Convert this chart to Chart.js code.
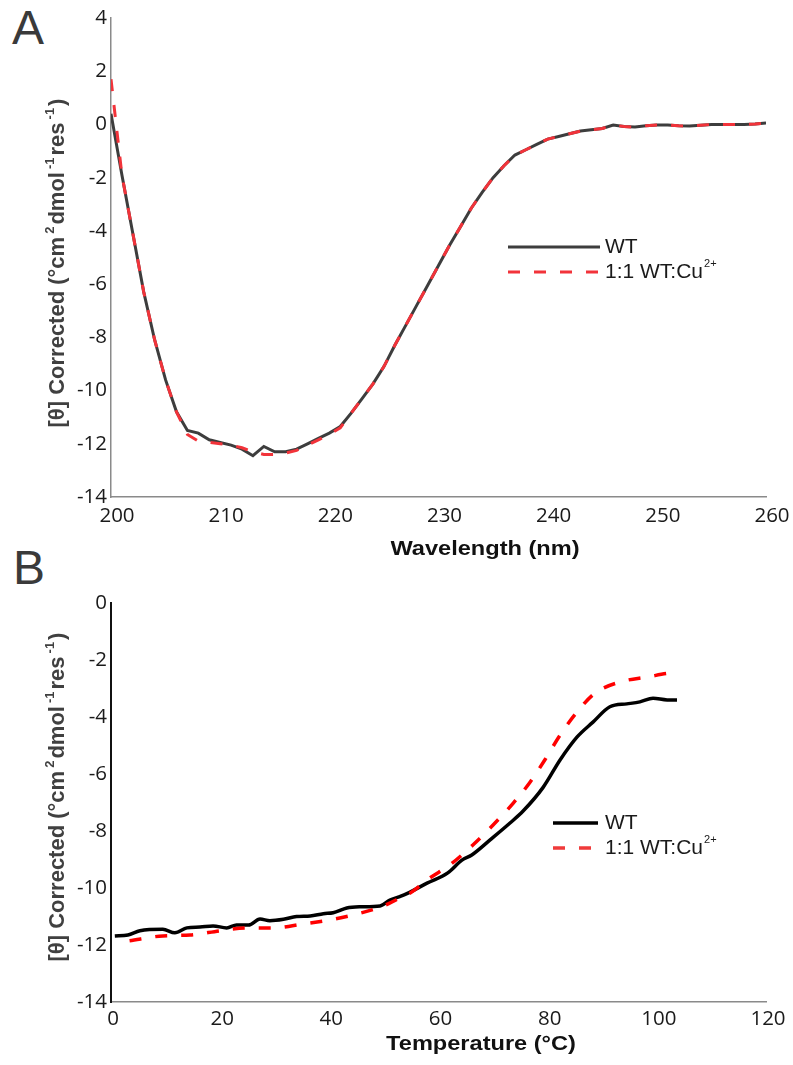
<!DOCTYPE html>
<html>
<head>
<meta charset="utf-8">
<script src="https://cdn.jsdelivr.net/npm/chart.js@4.4.1/dist/chart.umd.min.js"></script>
<style>
  body { margin: 0; background: #fff; }
  #page { position: relative; width: 793px; height: 1065px; overflow: hidden; background: #fff; }
  canvas { position: absolute; left: 0; }
  .letter { position: absolute; font: 48px "Liberation Sans", Arial, sans-serif; color: #3a3a3a; line-height: 48px; }
  .ytitle { position: absolute; white-space: nowrap; font: bold 22px "Liberation Sans", Arial, sans-serif; color: #404040;
            transform: translate(-50%, -50%) rotate(-90deg); }
  .ytitle sup { font-size: 13px; vertical-align: 10px; line-height: 0; margin: 0 2px 0 3px; }
  .xtitle { position: absolute; white-space: nowrap; font: bold 20.5px "Liberation Sans", Arial, sans-serif; color: #111;
            transform: translate(-50%, -50%) scaleX(1.15); }
</style>
</head>
<body>
<div id="page">
  <div class="letter" style="left:12px; top:4px;">A</div>
  <div class="letter" style="left:13px; top:544px;">B</div>
  <canvas id="chartA" width="793" height="565" style="top:0"></canvas>
  <canvas id="chartB" width="793" height="505" style="top:560px"></canvas>
  <div class="ytitle" style="left:57px; top:263px;">[θ] Corrected (°cm<sup>2</sup>dmol<sup>-1</sup>res<sup>-1</sup>)</div>
  <div class="ytitle" style="left:57px; top:797px;">[θ] Corrected (°cm<sup>2</sup>dmol<sup>-1</sup>res<sup>-1</sup>)</div>
  <div class="xtitle" style="left:485px; top:548px;">Wavelength (nm)</div>
  <div class="xtitle" style="left:481px; top:1043px;">Temperature (°C)</div>
</div>
<script>
// Panel A: far-UV CD spectrum
const wavelength = [200, 201, 202, 203, 204, 205, 206, 207, 208, 209,
  210, 211, 212, 213, 214, 215, 216, 217, 218, 219,
  220, 221, 222, 223, 224, 225, 226, 227, 228, 229,
  230, 231, 232, 233, 234, 235, 236, 237, 238, 239,
  240, 241, 242, 243, 244, 245, 246, 247, 248, 249,
  250, 251, 252, 253, 254, 255, 256, 257, 258, 259, 260];
const wtSpectrum = [0.4, -1.9, -4.1, -6.3, -8.1, -9.6, -10.8, -11.5, -11.6, -11.85,
  -11.95, -12.05, -12.2, -12.45, -12.1, -12.3, -12.3, -12.2, -12.0, -11.8,
  -11.6, -11.35, -10.85, -10.3, -9.75, -9.1, -8.3, -7.55, -6.8, -6.05,
  -5.3, -4.55, -3.85, -3.15, -2.55, -2.0, -1.55, -1.15, -0.95, -0.75,
  -0.55, -0.45, -0.35, -0.25, -0.2, -0.15, -0.02, -0.08, -0.1, -0.05,
  -0.02, -0.02, -0.05, -0.06, -0.03, 0.0, 0.0, 0.0, 0.0, 0.02, 0.05];
const cuSpectrum = [1.7, -1.9, -4.1, -6.3, -8.1, -9.6, -10.8, -11.65, -11.9, -11.95,
  -12.0, -12.05, -12.15, -12.3, -12.4, -12.4, -12.35, -12.25, -12.05, -11.85,
  -11.65, -11.4, -10.85, -10.3, -9.75, -9.1, -8.3, -7.55, -6.8, -6.05,
  -5.3, -4.55, -3.85, -3.15, -2.55, -2.0, -1.55, -1.15, -0.95, -0.75,
  -0.55, -0.45, -0.35, -0.25, -0.2, -0.15, -0.02, -0.08, -0.1, -0.05,
  -0.02, -0.02, -0.05, -0.06, -0.03, 0.0, 0.0, 0.0, 0.0, 0.02, 0.05];

// Panel B: thermal melt
const wtTemp = [0.7, 3.1, 5.3, 9.5, 11.7, 13.9, 16.3, 18.7, 21.2, 23, 25.2, 27.3, 29.1, 31.6,
  34, 36.5, 38.9, 40.7, 43.2, 45.6, 49.3, 51.1, 52.9, 54.2, 57.9, 61.7, 64.3, 66.1, 69.4,
  73.1, 75.5, 79.2, 82.3, 85.4, 88.3, 91.4, 94.5, 96.9, 99.3, 101.9, 103.7];
const wtMelt = [-11.68, -11.65, -11.5, -11.45, -11.57, -11.4, -11.37, -11.33, -11.4, -11.3, -11.3, -11.09, -11.15, -11.1,
  -11.0, -10.98, -10.9, -10.87, -10.7, -10.66, -10.63, -10.42, -10.3, -10.2, -9.83, -9.47, -9.02, -8.84, -8.32,
  -7.72, -7.3, -6.46, -5.5, -4.7, -4.18, -3.64, -3.54, -3.47, -3.34, -3.4, -3.4];
const cuTemp = [3.4, 9.5, 14.5, 20, 24.9, 29.7, 35.2, 40.1, 44.3, 49.9, 52.4, 54.8, 58.4, 62.1,
  66.3, 70, 73.7, 76.8, 79.5, 82.3, 85.4, 88.7, 93.3, 98.2, 103, 104];
const cuMelt = [-11.85, -11.68, -11.65, -11.5, -11.4, -11.4, -11.26, -11.12, -10.95, -10.63, -10.4, -10.18, -9.65, -9.19,
  -8.49, -7.79, -7.02, -6.28, -5.5, -4.63, -3.82, -3.16, -2.77, -2.6, -2.46, -2.49];

const seriesLabels = ['WT', '1:1 WT:Cu'];
const cuSup = '2+';

const toPoints = (xs, ys) => xs.map((x, i) => ({ x: x, y: ys[i] }));

// draws the legend inside the plot at fixed spots
const inlineLegend = {
  id: 'inlineLegend',
  afterDatasetsDraw(chart, args, opts) {
    const ctx = chart.ctx;
    chart.data.datasets.forEach((ds, i) => {
      const y = opts.rows[i];
      ctx.save();
      ctx.strokeStyle = ds.legendColor || ds.borderColor;
      ctx.lineWidth = ds.borderWidth;
      ctx.setLineDash(ds.borderDash || []);
      ctx.beginPath();
      ctx.moveTo(opts.x0, y);
      ctx.lineTo(opts.x1, y);
      ctx.stroke();
      ctx.fillStyle = '#1a1a1a';
      ctx.font = '21px "Liberation Sans", Arial, sans-serif';
      ctx.textBaseline = 'middle';
      ctx.fillText(ds.label, opts.textX, y);
      if (ds.sup) {
        const w = ctx.measureText(ds.label).width;
        ctx.font = '11px "Liberation Sans", Arial, sans-serif';
        ctx.fillText(ds.sup, opts.textX + w + 1, y - 8);
      }
      ctx.restore();
    });
  }
};

function makeOptions(cfg) {
  return {
    responsive: false,
    animation: false,
    devicePixelRatio: 1,
    layout: { padding: { top: cfg.padTop, right: 27, left: 0, bottom: 0 } },
    plugins: {
      legend: { display: false },
      tooltip: { enabled: false },
      inlineLegend: cfg.legend
    },
    elements: { point: { radius: 0 } },
    scales: {
      x: {
        type: 'linear', min: cfg.xMin, max: cfg.xMax,
        grid: { display: false, drawTicks: false },
        border: { display: true, color: '#8a8a8a', width: 1.5 },
        ticks: { stepSize: cfg.xStep, padding: cfg.xPad, labelOffset: cfg.xOffset, color: '#1a1a1a',
                 font: { family: '"Open Sans", sans-serif', size: 20.5 } },
        afterFit: s => { s.height = cfg.xHeight; }
      },
      y: {
        min: cfg.yMin, max: cfg.yMax,
        grid: { display: false, drawTicks: false },
        border: { display: true, color: cfg.yAxisColor, width: cfg.yAxisWidth },
        ticks: { stepSize: 2, padding: 4, color: '#1a1a1a',
                 font: { family: '"Open Sans", sans-serif', size: 20.5 } },
        afterFit: s => { s.width = 111; }
      }
    }
  };
}

new Chart(document.getElementById('chartA'), {
  type: 'line',
  data: {
    datasets: [
      { label: seriesLabels[0], data: toPoints(wavelength, wtSpectrum), borderColor: '#3d3d3d',
        borderWidth: 3, tension: 0, order: 2 },
      { label: seriesLabels[1], sup: cuSup, data: toPoints(wavelength, cuSpectrum), borderColor: '#f2333a',
        borderWidth: 3, borderDash: [12, 14], tension: 0, order: 1 }
    ]
  },
  options: makeOptions({
    padTop: 18, xMin: 200, xMax: 260, xStep: 10, xPad: 7, xOffset: 6, xHeight: 68,
    yMin: -14, yMax: 4, yAxisColor: '#8a8a8a', yAxisWidth: 1.5,
    legend: { x0: 508, x1: 600, textX: 605, rows: [247, 272] }
  }),
  plugins: [inlineLegend]
});

new Chart(document.getElementById('chartB'), {
  type: 'line',
  data: {
    datasets: [
      { label: seriesLabels[0], data: toPoints(wtTemp, wtMelt), borderColor: '#000000',
        borderWidth: 3.5, cubicInterpolationMode: 'monotone', order: 2 },
      { label: seriesLabels[1], sup: cuSup, data: toPoints(cuTemp, cuMelt), borderColor: '#ff0000',
        legendColor: '#f03a3a', borderWidth: 3.5, borderDash: [12, 14], cubicInterpolationMode: 'monotone', order: 1 }
    ]
  },
  options: makeOptions({
    padTop: 43, xMin: 0, xMax: 120, xStep: 20, xPad: 5, xOffset: 2, xHeight: 63,
    yMin: -14, yMax: 0, yAxisColor: '#111111', yAxisWidth: 2,
    legend: { x0: 553, x1: 598, textX: 605, rows: [263, 288] }
  }),
  plugins: [inlineLegend]
});
</script>
</body>
</html>
